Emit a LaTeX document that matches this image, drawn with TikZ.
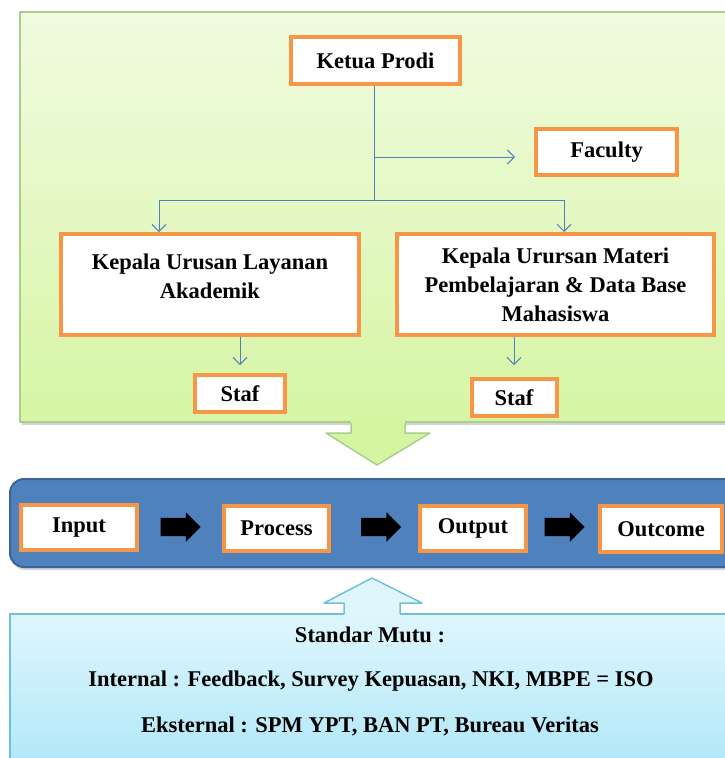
\documentclass[tikz,border=0pt]{standalone}
\usepackage{fontspec}
\setmainfont{Liberation Serif}
\usetikzlibrary{arrows.meta,shapes.arrows,shadows}
\definecolor{boxorange}{HTML}{F79646}
\definecolor{linkblue}{HTML}{4F81BD}
\definecolor{bandblue}{HTML}{4F81BD}
\definecolor{banddark}{HTML}{3B6497}
\definecolor{leafedge}{HTML}{A8D08D}
\definecolor{leaftop}{HTML}{F0FBE0}
\definecolor{leafbot}{HTML}{D7F5A4}
\definecolor{leafarrow}{HTML}{D6F5A2}
\definecolor{skyedge}{HTML}{6FC1D8}
\definecolor{skytop}{HTML}{DFF6FD}
\definecolor{skybot}{HTML}{A9E5F7}
\begin{document}
\begin{tikzpicture}[x=1pt,y=-1pt,
    unit/.style={draw=boxorange,line width=4pt,fill=white,align=center,inner sep=2pt,
        font=\fontsize{22.5}{29}\selectfont\bfseries},
    link/.style={draw=linkblue,line width=1pt},
    tip/.style={-{Straight Barb[length=7pt,width=14pt]}},
    flow/.style={single arrow,fill=black,minimum height=40pt,inner xsep=0pt,inner ysep=9pt,
        single arrow head extend=5.5pt},
    mutu/.style={font=\fontsize{22.5}{29}\selectfont\bfseries}]
    \useasboundingbox (0,0) rectangle (725,758);
    \clip (0,0) rectangle (725,758);
    % organisation panel
    \draw[draw=leafedge,line width=2pt,top color=leaftop,bottom color=leafbot,
        drop shadow={shadow xshift=2pt,shadow yshift=-3pt,opacity=0.35}]
        (20,12) rectangle (740,422);
    \fill[leafarrow] (351,415) -- (351,433) -- (326,433) -- (377,465) -- (430,433) -- (405,433) -- (405,415) -- cycle;
    \draw[leafedge,line width=1.5pt,line join=round] (351,423) -- (351,433) -- (326,433) -- (377,465) -- (430,433) -- (405,433) -- (405,423);
    %
    \node[unit,minimum width=169pt,minimum height=47pt] (ketua) at (375.5,60.5) {Ketua Prodi};
    \node[unit,minimum width=141pt,minimum height=46pt] (faculty) at (606.5,152) {Faculty};
    \node[unit,minimum width=298pt,minimum height=101pt,text depth=17pt] (layanan) at (210,284.5)
        {Kepala Urusan Layanan\\Akademik};
    \node[unit,minimum width=317pt,minimum height=101pt] (materi) at (555.5,284.5)
        {Kepala Urursan Materi\\Pembelajaran \& Data Base\\Mahasiswa};
    \node[unit,minimum width=90pt,minimum height=37pt] (stafA) at (240,393.5) {Staf};
    \node[unit,minimum width=85pt,minimum height=37pt] (stafB) at (514,397.5) {Staf};
    %
    \coordinate (fork) at (374,157);
    \coordinate (facin) at (515,157);
    \coordinate (bus) at (374,200);
    \coordinate (busL) at (159,200);
    \coordinate (busR) at (564,200);
    \draw[link] (ketua.south -| bus) -- (bus);
    \draw[link,tip] (fork) -- (facin);
    \draw[link] (busL) -- (busR);
    \draw[link,tip] (busL) -- (busL |- layanan.north);
    \draw[link,tip] (busR) -- (busR |- materi.north);
    \draw[link,tip,shorten >=8pt] (stafA.north |- layanan.south) -- (stafA.north);
    \draw[link,tip,shorten >=12pt] (stafB.north |- materi.south) -- (stafB.north);
    % process band
    \draw[draw=banddark,line width=2pt,fill=bandblue,rounded corners=14pt,
        drop shadow={shadow xshift=1pt,shadow yshift=-3pt,opacity=0.35}]
        (10,479) rectangle (760,567);
    \node[unit,minimum width=116pt,minimum height=45pt] (input) at (79,527.5) {Input};
    \node[unit,minimum width=105pt,minimum height=45pt] (process) at (276.5,528.5) {Process};
    \node[unit,minimum width=106pt,minimum height=45pt] (output) at (473,528.5) {Output};
    \node[unit,minimum width=122pt,minimum height=46pt] (outcome) at (661,529) {Outcome};
    \node[flow] (stepA) at (176,527) {};
    \node[flow] (stepB) at (376.5,527) {};
    \node[flow] (stepC) at (560,527) {};
    % quality standards panel
    \draw[draw=skyedge,line width=1.5pt,top color=skytop,bottom color=skybot]
        (10,614) rectangle (760,790);
    \fill[skytop] (344,616) -- (344,603) -- (324,603) -- (372,578) -- (422,603) -- (400,603) -- (400,616) -- cycle;
    \draw[skyedge,line width=1.5pt,line join=round] (344,614) -- (344,603) -- (324,603) -- (372,578) -- (422,603) -- (400,603) -- (400,614);
    \node[mutu] (standar) at (370,635) {Standar Mutu :};
    \node[mutu] (internal) at (371,681) {Internal : Feedback, Survey Kepuasan, NKI, MBPE = ISO};
    \node[mutu] (eksternal) at (370,726) {Eksternal : SPM YPT, BAN PT, Bureau Veritas};
\end{tikzpicture}
\end{document}
